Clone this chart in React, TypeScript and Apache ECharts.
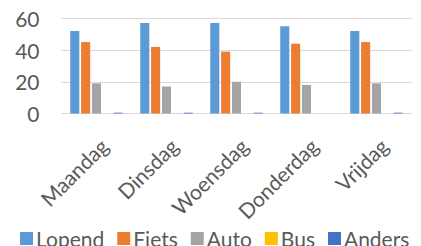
import React, { useEffect, useRef } from "react";
import * as echarts from "echarts";

const categories = ["Maandag", "Dinsdag", "Woensdag", "Donderdag", "Vrijdag"];
const seriesNames = ["Lopend", "Fiets", "Auto", "Bus", "Anders"];
const lopend = [52, 57, 57, 55, 52];
const fiets = [45, 42, 39, 44, 45];
const auto = [19, 17, 20, 18, 19];
const bus = [0, 0, 0, 0, 0];
const anders = [0.5, 0.5, 0.5, 0, 0.5];
const colors = ["#5B9BD5", "#ED7D31", "#A5A5A5", "#FFC000", "#4472C4"];

export default function App() {
  const ref = useRef<HTMLDivElement>(null);
  useEffect(() => {
    if (!ref.current) return;
    const chart = echarts.init(ref.current, undefined, { renderer: "svg" });
    const data = [lopend, fiets, auto, bus, anders];
    const font = "Lato";
    chart.setOption({
      animation: false,
      color: colors,
      textStyle: { fontFamily: font },
      grid: { left: 61.5, right: 9.5, top: 18.3, bottom: 132.5, containLabel: false },
      legend: {
        data: seriesNames,
        left: 20,
        top: 228,
        width: 401,
        padding: 0,
        itemWidth: 13,
        itemHeight: 13,
        itemGap: 13,
        icon: "rect",
        textStyle: { fontFamily: font, fontSize: 21, color: "#595959", padding: [0, 0, 0, -2] },
      },
      xAxis: {
        type: "category",
        data: categories,
        axisLine: { show: true, lineStyle: { color: "#D9D9D9", width: 1 } },
        axisTick: { show: false },
        axisLabel: {
          rotate: 45,
          interval: 0,
          margin: 21,
          align: "right",
          verticalAlign: "top",
          fontFamily: font,
          fontSize: 21,
          color: "#595959",
        },
      },
      yAxis: {
        type: "value",
        min: 0,
        max: 60,
        interval: 20,
        axisLine: { show: false },
        axisTick: { show: false },
        splitLine: { lineStyle: { color: "#D9D9D9", width: 1 } },
        axisLabel: { margin: 22, fontFamily: font, fontSize: 21, color: "#595959" },
      },
      series: seriesNames.map((name, i) => ({
        name,
        type: "bar",
        data: data[i],
        barGap: "20%",
        barCategoryGap: "25%",
        itemStyle: { color: colors[i] },
      })),
    });
    return () => chart.dispose();
  }, []);
  return <div ref={ref} style={{ width: 421, height: 246, position: "absolute", left: 0, top: 0 }} />;
}
